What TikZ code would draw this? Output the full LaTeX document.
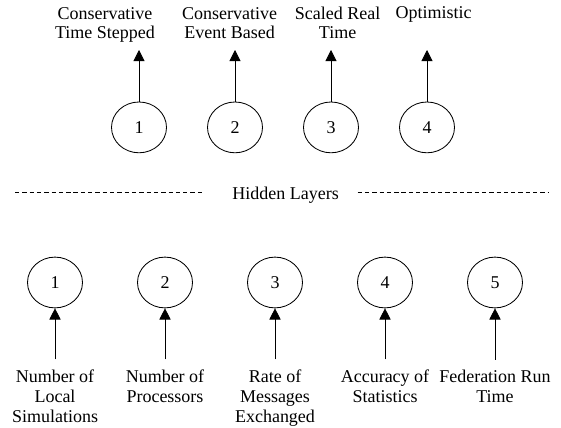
\documentclass[tikz,border=0pt]{standalone}
\usepackage{fontspec}
\setmainfont{Liberation Serif}
\usetikzlibrary{arrows.meta,shapes.geometric}

\begin{document}
\begin{tikzpicture}[
				neuron/.style={
					draw,
					ellipse,
					minimum width=1.375cm,
					minimum height=1.27cm,
					inner sep=0pt,
					line width=0.6pt
				},
				factor/.style={align=center,anchor=base,inner xsep=0pt,inner ysep=6.9pt},
				outcome/.style={align=center,anchor=base,inner sep=0pt},
				flow/.style={-{Triangle[length=2.8mm,width=2.8mm]},line width=0.6pt},
				layerline/.style={dashed,dash pattern=on 3.1pt off 2.1pt,line width=0.6pt},
				every node/.style={font=\fontsize{12.8pt}{14.2pt}\selectfont}
				]
				\useasboundingbox (0,0) rectangle (14.025,10.675);
				
				% output layer
				\node[neuron] (o1) at (3.475,7.49) {1};
				\node[neuron] (o2) at (5.875,7.49) {2};
				\node[neuron] (o3) at (8.275,7.49) {3};
				\node[neuron] (o4) at (10.675,7.49) {4};
				\coordinate (outtip) at (0,9.425);
				
				% base = last line
				\node[outcome] (ts) at (2.625,9.7) {Conservative\\Time Stepped};
				\node[outcome] (eb) at (5.74,9.7) {Conservative\\Event Based};
				\node[outcome] (rt) at (8.44,9.7) {Scaled Real\\Time};
				\node[outcome] (op) at (10.84,10.2) {Optimistic};
				
				\draw[flow] (o1.north) -- (o1.north |- outtip);
				\draw[flow] (o2.north) -- (o2.north |- outtip);
				\draw[flow] (o3.north) -- (o3.north |- outtip);
				\draw[flow] (o4.north) -- (o4.north |- outtip);
				
				% hidden layers
				\node[outcome] (hidden) at (7.14,5.675) {Hidden Layers};
				\coordinate (dashl) at (0.375,5.8625);
				\coordinate (dashr) at (13.7,5.8625);
				\draw[layerline] (dashl) -- (5.125,5.8625);
				\draw[layerline] (8.94,5.8625) -- (dashr);
				
				% input layer
				\node[neuron] (i1) at (1.375,3.6125) {1};
				\node[neuron] (i2) at (4.125,3.6125) {2};
				\node[neuron] (i3) at (6.875,3.6125) {3};
				\node[neuron] (i4) at (9.625,3.6125) {4};
				\node[neuron] (i5) at (12.375,3.6125) {5};
				
				\node[factor] (sims) at (1.375,0.125) {Number of\\Local\\Simulations};
				\node[factor] (procs) at (4.125,0.625) {Number of\\Processors};
				\node[factor] (msgs) at (6.875,0.125) {Rate of\\Messages\\Exchanged};
				\node[factor] (stats) at (9.625,0.625) {Accuracy of\\Statistics};
				\node[factor] (runtime) at (12.375,0.625) {Federation Run\\Time};
				
				\draw[flow] (sims.north) -- (i1.south);
				\draw[flow] (procs.north) -- (i2.south);
				\draw[flow] (msgs.north) -- (i3.south);
				\draw[flow] (stats.north) -- (i4.south);
				\draw[flow] (runtime.north) -- (i5.south);
			\end{tikzpicture}
\end{document}
